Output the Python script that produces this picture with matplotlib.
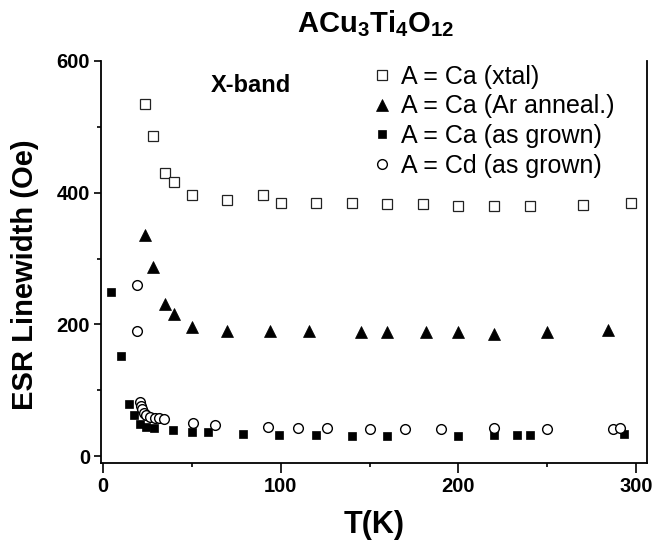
import matplotlib
matplotlib.use("Agg")
import matplotlib.pyplot as plt
from matplotlib.ticker import MultipleLocator

plt.rcParams['font.family'] = ['Liberation Sans', 'DejaVu Sans']
plt.rcParams['mathtext.fontset'] = 'custom'
plt.rcParams['mathtext.rm'] = 'Liberation Sans:bold'
plt.rcParams['mathtext.bf'] = 'Liberation Sans:bold'

# A = Ca (xtal)
T_xtal = [24, 28, 35, 40, 50, 70, 90, 100, 120, 140, 160, 180, 200, 220, 240, 270, 297]
W_xtal = [534, 486, 430, 416, 396, 389, 396, 385, 385, 385, 383, 383, 380, 379, 380, 381, 385]

# A = Ca (Ar anneal.)
T_ar = [24, 28, 35, 40, 50, 70, 94, 116, 145, 160, 182, 200, 220, 250, 284]
W_ar = [335, 287, 231, 216, 196, 190, 190, 190, 189, 188, 188, 188, 185, 188, 192]

# A = Ca (as grown)
T_ca = [4.5, 10, 15, 17.6, 20.8, 24.5, 29, 39.5, 50, 59, 79, 99, 120, 140, 160, 200, 220, 233, 240, 293]
W_ca = [249, 152, 79, 62, 48, 44, 43, 40, 37, 36, 33.5, 32.5, 31.5, 30.5, 30.5, 30.5, 31.5, 32, 32, 33]

# A = Cd (as grown)
T_cd = [19.3, 19.3, 20.8, 21.7, 22.3, 23, 24.5, 26.8, 29.2, 31.6, 34.3, 51, 63, 93, 110, 126, 150, 170, 190, 220, 250, 287, 291]
W_cd = [260, 190, 81.6, 76, 71, 66, 62, 59, 58, 57, 56, 50.7, 47, 43.6, 42, 42, 41, 41, 41, 42, 41, 41, 42]

labels = ['A = Ca (xtal)', 'A = Ca (Ar anneal.)', 'A = Ca (as grown)', 'A = Cd (as grown)']

fig = plt.figure(figsize=(6.54, 5.44), dpi=100)
ax = fig.add_axes([101/654, 1-463/544, 546/654, 402/544])

ax.plot(T_xtal, W_xtal, linestyle='none', marker='s', ms=6.8, mfc='white', mec='#222222', mew=0.9, label=labels[0])
ax.plot(T_ar, W_ar, linestyle='none', marker='^', ms=9, mfc='black', mec='black', mew=0.5, label=labels[1])
ax.plot(T_ca, W_ca, linestyle='none', marker='s', ms=6.3, mfc='black', mec='black', mew=0.5, label=labels[2])
ax.plot(T_cd, W_cd, linestyle='none', marker='o', ms=7, mfc='white', mec='black', mew=1.0, label=labels[3])

ax.set_xlim(-1, 306)
ax.set_ylim(-10.6, 600)
ax.xaxis.set_major_locator(MultipleLocator(100))
ax.xaxis.set_minor_locator(MultipleLocator(50))
ax.yaxis.set_major_locator(MultipleLocator(200))
ax.yaxis.set_minor_locator(MultipleLocator(100))
ax.spines['top'].set_visible(False)
for s in ['left', 'right', 'bottom']:
    ax.spines[s].set_linewidth(1.3)
ax.tick_params(axis='both', which='major', direction='out', length=5, width=1.2, labelsize=14.5, pad=3)
ax.tick_params(axis='both', which='minor', direction='out', length=3, width=1.2)
ax.tick_params(axis='x', which='major', length=7)
for lab in ax.get_xticklabels() + ax.get_yticklabels():
    lab.set_fontweight('bold')

ax.set_xlabel('T(K)', fontsize=22, fontweight='bold', labelpad=10)
ax.set_ylabel('ESR Linewidth (Oe)', fontsize=21, fontweight='bold')
ax.yaxis.set_label_coords((39 - 101) / 546, 0.468)

fig.text(376/654, 1-32/544, r'$\mathbf{ACu_3Ti_4O_{12}}$', fontsize=21, ha='center', va='baseline')
ax.text(61, 553, 'X-band', fontsize=17, fontweight='bold', ha='left', va='baseline')

leg = ax.legend(loc='upper left', bbox_to_anchor=(372/654, 1-65/544), bbox_transform=fig.transFigure,
                frameon=False, fontsize=18, numpoints=1, handlelength=0.8, handletextpad=0.36,
                labelspacing=0.22, borderpad=0, borderaxespad=0)

fig.savefig('out.png', dpi=100)
